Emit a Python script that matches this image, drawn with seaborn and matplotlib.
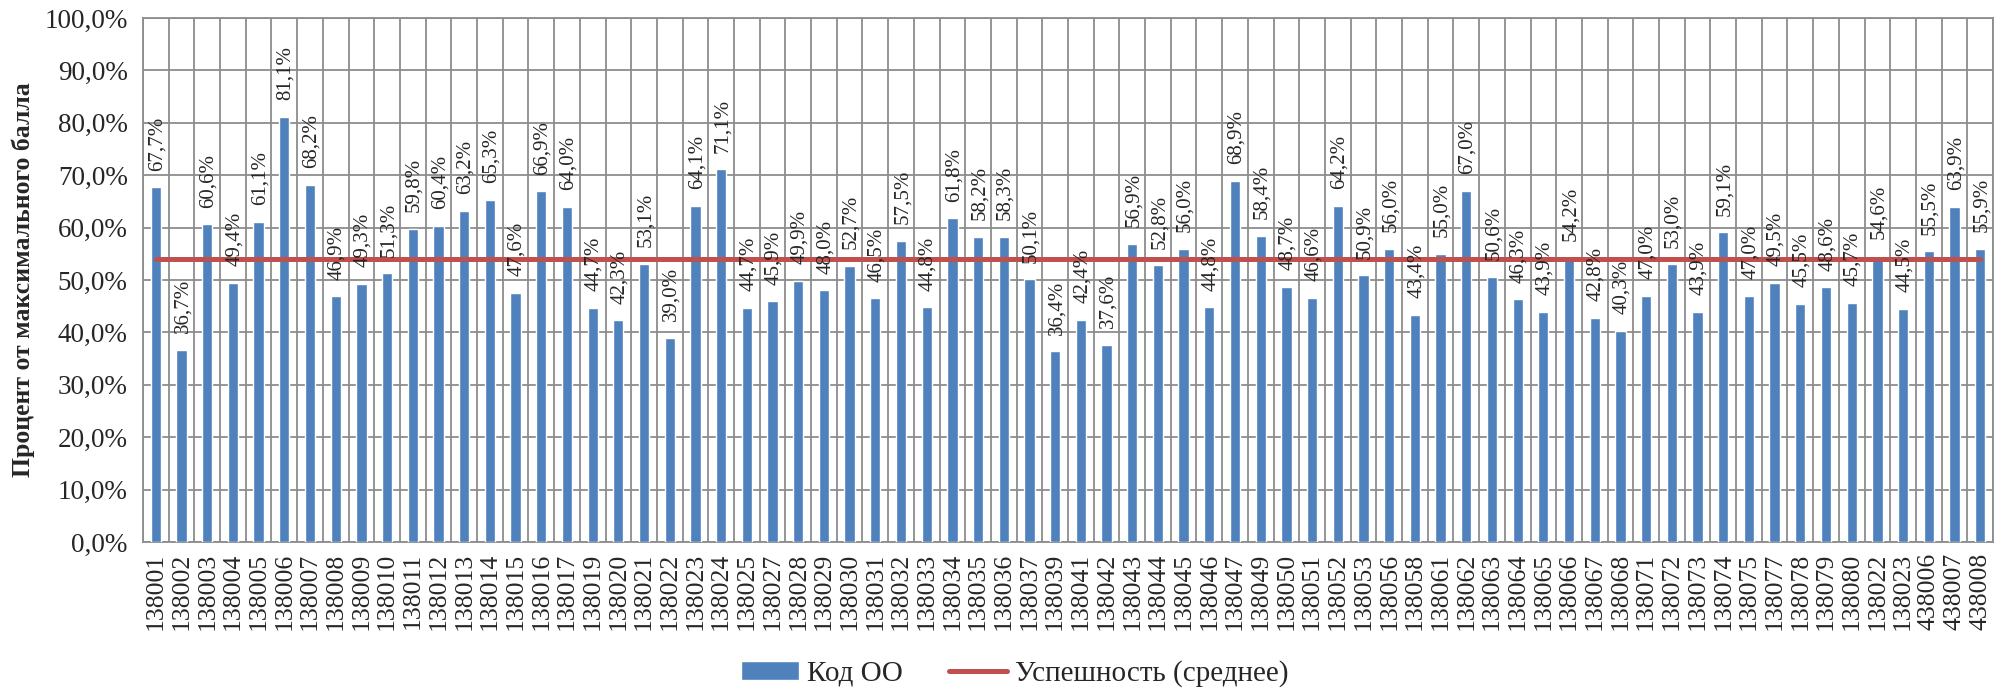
import matplotlib
matplotlib.use("Agg")
import matplotlib.pyplot as plt
from matplotlib.ticker import FuncFormatter, FixedLocator
import seaborn as sns
import pandas as pd

# коды ОО (есть повторы 138022 / 138023 в конце)
codes = ["138001", "138002", "138003", "138004", "138005", "138006", "138007", "138008",
         "138009", "138010", "138011", "138012", "138013", "138014", "138015", "138016",
         "138017", "138019", "138020", "138021", "138022", "138023", "138024", "138025",
         "138027", "138028", "138029", "138030", "138031", "138032", "138033", "138034",
         "138035", "138036", "138037", "138039", "138041", "138042", "138043", "138044",
         "138045", "138046", "138047", "138049", "138050", "138051", "138052", "138053",
         "138056", "138058", "138061", "138062", "138063", "138064", "138065", "138066",
         "138067", "138068", "138071", "138072", "138073", "138074", "138075", "138077",
         "138078", "138079", "138080", "138022", "138023", "438006", "438007", "438008"]

values = [67.7, 36.7, 60.6, 49.4, 61.1, 81.1, 68.2, 46.9,
          49.3, 51.3, 59.8, 60.4, 63.2, 65.3, 47.6, 66.9,
          64.0, 44.7, 42.3, 53.1, 39.0, 64.1, 71.1, 44.7,
          45.9, 49.9, 48.0, 52.7, 46.5, 57.5, 44.8, 61.8,
          58.2, 58.3, 50.1, 36.4, 42.4, 37.6, 56.9, 52.8,
          56.0, 44.8, 68.9, 58.4, 48.7, 46.6, 64.2, 50.9,
          56.0, 43.4, 55.0, 67.0, 50.6, 46.3, 43.9, 54.2,
          42.8, 40.3, 47.0, 53.0, 43.9, 59.1, 47.0, 49.5,
          45.5, 48.6, 45.7, 54.6, 44.5, 55.5, 63.9, 55.9]

mean_value = 54.0

y_ticks = [0, 10, 20, 30, 40, 50, 60, 70, 80, 90, 100]

df = pd.DataFrame({"pos": range(len(codes)), "code": codes, "value": values})
df["mean"] = mean_value

sns.set_style("white")
plt.rcParams["font.family"] = ["Liberation Serif", "DejaVu Serif"]

bar_color = "#4F81BD"
line_color = "#C0504D"
grid_color = "#8C8C8C"

fig = plt.figure(figsize=(20.05, 6.93), dpi=100)
ax = fig.add_axes([143 / 2005, 151 / 693, 1850 / 2005, 524 / 693])

sns.barplot(data=df, x="pos", y="value", color=bar_color, width=0.4, saturation=1,
            ax=ax, label="Код ОО", zorder=3)
sns.lineplot(data=df, x="pos", y="mean", color=line_color, linewidth=3.6,
             ax=ax, label="Успешность (среднее)", zorder=4,
             solid_capstyle="round")

n = len(codes)
ax.set_xlim(-0.5, n - 0.5)
ax.set_ylim(0, 100)

# сетка по границам категорий и по шагу 10%
ax.xaxis.set_major_locator(FixedLocator([i - 0.5 for i in range(n + 1)]))
ax.xaxis.set_minor_locator(FixedLocator(list(range(n))))
ax.set_xticklabels([])
ax.set_xticklabels(codes, minor=True, rotation=90, fontsize=18.5)
ax.tick_params(axis="x", which="minor", length=0, pad=8)
ax.tick_params(axis="x", which="major", length=7, width=1.3, color=grid_color, direction="out")

ax.set_yticks(y_ticks)
ax.yaxis.set_major_formatter(FuncFormatter(lambda v, p: f"{v:.1f}%".replace(".", ",")))
ax.tick_params(axis="y", length=7, width=1.3, color=grid_color, direction="out", labelsize=19.5, pad=4)

ax.grid(True, which="major", color=grid_color, linewidth=1.3, zorder=0)
ax.set_axisbelow(True)
for s in ax.spines.values():
    s.set_color(grid_color)
    s.set_linewidth(1.3)

ax.set_xlabel("")
ax.set_ylabel("Процент от максимального балла", fontsize=18.5, fontweight="bold", labelpad=7)

# подписи значений
for i, v in enumerate(values):
    ax.annotate(f"{v:.1f}%".replace(".", ","), (i, v), xytext=(1, 12), textcoords="offset points",
                rotation=90, ha="center", va="bottom", fontsize=15, zorder=5)

handles, labels = ax.get_legend_handles_labels()
ax.legend_.remove()
order = [labels.index("Код ОО"), labels.index("Успешность (среднее)")]
fig.legend([handles[k] for k in order], [labels[k] for k in order],
           loc="center", bbox_to_anchor=(0.506, 0.028), ncol=2,
           frameon=False, fontsize=21, handlelength=2.0, handleheight=0.6,
           handletextpad=0.25, columnspacing=1.6)

fig.savefig("out.png", dpi=100)
